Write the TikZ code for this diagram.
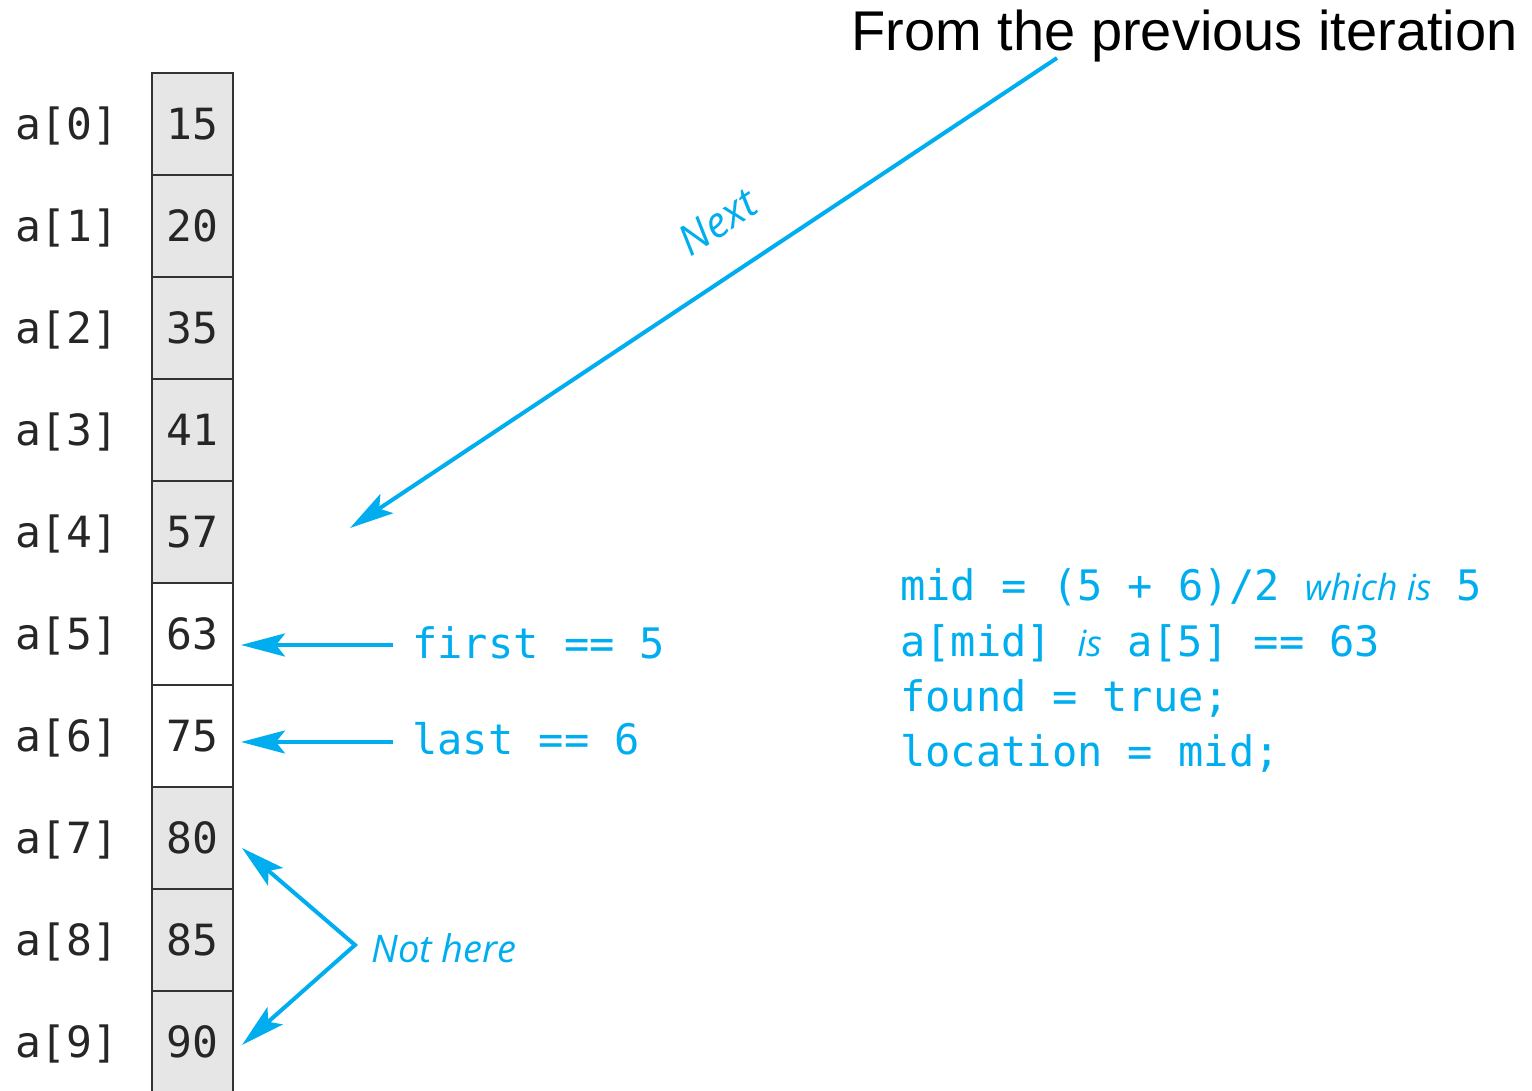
\documentclass[tikz,border=0pt]{standalone}
\usepackage{fontspec}
\setmainfont{Liberation Sans}
\setmonofont{DejaVu Sans Mono}
\newfontfamily\handfont{Open Sans}
\usetikzlibrary{arrows.meta,positioning}

\definecolor{hintblue}{HTML}{00AEEF}
\definecolor{cellgray}{HTML}{E6E6E6}

\begin{document}
\begin{tikzpicture}[x=0.5pt, y=-0.5pt,
  >={Stealth[length=22pt, width=11.5pt, inset=4.5pt]},
  cell/.style={draw=black!80, line width=1pt, minimum width=40.5pt,
    minimum height=51pt, inner sep=0pt, text=black!85,
    font=\ttfamily\fontsize{21.5}{21.5}\selectfont},
  idx/.style={inner sep=0pt, text=black!85,
    font=\ttfamily\fontsize{21.5}{21.5}\selectfont},
  code/.style={inner sep=0pt, text=hintblue, anchor=base west,
    font=\ttfamily\fontsize{21}{21}\selectfont},
  note/.style={inner sep=0pt, text=hintblue,
    font=\handfont\itshape\fontsize{19}{19}\selectfont},
  hint/.style={draw=hintblue, line width=2pt}]

\useasboundingbox (0,0) rectangle (1532,1091);

% Celle dell'array con gli indici
\foreach \v/\f [count=\i from 0] in {15/cellgray, 20/cellgray, 35/cellgray,
    41/cellgray, 57/cellgray, 63/white, 75/white, 80/cellgray,
    85/cellgray, 90/cellgray} {
  \node[cell, fill=\f] (c\i) at (192.5, {73+102*(\i+0.5)}) {\v};
  \node[idx, anchor=base east] (l\i) at ([xshift=-16pt]c\i.base west) {a[\i]};
}

% Freccia dall'iterazione precedente
\node[inner sep=0pt, anchor=base east, font=\fontsize{28}{28}\selectfont]
  (prev) at (1518,51) {From the previous iteration};
\coordinate (nexttail) at (1057,58);
\coordinate (nexthead) at (350,528);
\draw[->, hint] (nexttail) -- (nexthead)
  node[note, pos=0.44, sloped, above=17pt, font=\handfont\itshape\fontsize{21}{21}\selectfont] (next) {Next};

% Indici first e last
\node[code] (first) at (412,658) {first == 5};
\node[code] (last) at (412,754) {last == 6};
\coordinate (firsttail) at (393,645);
\coordinate (lasttail) at (393,742);
\draw[->, hint, shorten >=3.5pt] (firsttail) -- (firsttail -| c5.east);
\draw[->, hint, shorten >=3.5pt] (lasttail) -- (lasttail -| c6.east);

% Elementi esclusi
\coordinate (vtx) at (355,945);
\coordinate (top80) at (242,848);
\coordinate (bot90) at (242,1045);
\draw[<->, hint, line join=miter] (top80) -- (vtx) -- (bot90);
\node[note, anchor=west] (nothere) at (371,948) {Not here};

% Calcolo di mid
\node[code] (mid) at (900,600) {mid = (5 + 6)/2 {\handfont\itshape\fontsize{18}{18}\selectfont which is} 5};
\node[code] (amid) at (900,656) {a[mid] {\handfont\itshape\fontsize{18}{18}\selectfont is} a[5] == 63};
\node[code] (found) at (900,711) {found = true;};
\node[code] (loc) at (900,766) {location = mid;};

\end{tikzpicture}
\end{document}
